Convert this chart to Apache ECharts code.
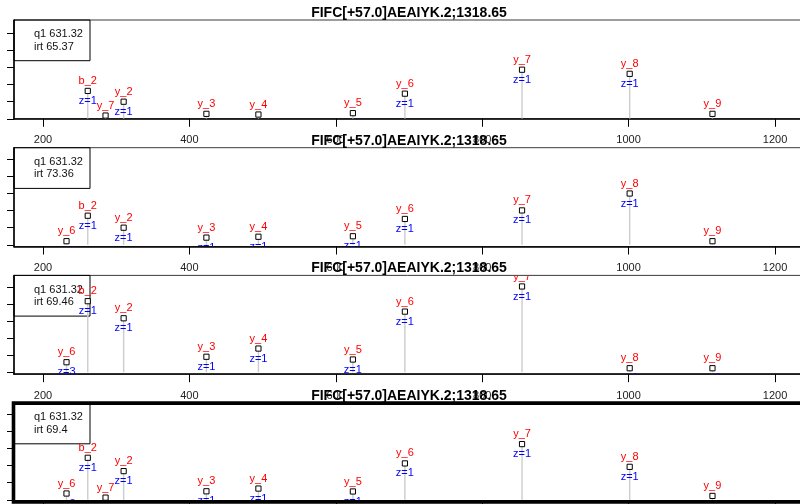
<!DOCTYPE html>
<html>
<head>
<meta charset="utf-8">
<script src="https://cdn.jsdelivr.net/npm/echarts@6/dist/echarts.min.js"></script>
<style>
  html, body { margin: 0; padding: 0; background: #fff; }
  #chart { width: 800px; height: 504px; }
</style>
</head>
<body>
<div id="chart"></div>
<script>
// Peptide / precursor annotation
const peptideLabel = 'FIFC[+57.0]AEAIYK.2;1318.65';
const precursorQ1 = 631.32;
const panelIrt = [65.37, 73.36, 69.46, 69.4];

// Fragment ions (shared by all runs)
const ionNames   = ['y_6', 'b_2', 'y_7', 'y_2', 'y_3', 'y_4', 'y_5', 'y_6', 'y_7', 'y_8', 'y_9'];
const ionCharges = [3, 1, 3, 1, 1, 1, 1, 1, 1, 1, 1];
const ionMz      = [232.13, 261.16, 285.47, 310.18, 423.26, 494.30, 623.34, 694.38, 854.41, 1001.48, 1114.56];

// Relative intensities per run (null = ion not observed)
const intensityRun1 = [null, 1.63, 0.19, 1.00, 0.29, 0.25, 0.33, 1.47, 2.87, 2.63, 0.29];
const intensityRun2 = [0.21, 1.70, null, 1.00, 0.42, 0.47, 0.50, 1.51, 2.01, 3.00, 0.21];
const intensityRun3 = [0.59, 4.16, null, 3.16, 0.91, 1.39, 0.75, 3.55, 5.02, 0.24, 0.24];
const intensityRun4 = [0.37, 2.46, 0.13, 1.68, 0.50, 0.66, 0.49, 2.13, 3.26, 1.93, 0.23];
const runIntensities = [intensityRun1, intensityRun2, intensityRun3, intensityRun4];

// Axis ticks
const mzTicks = [200, 400, 600, 800, 1000, 1200];
const intensityTicks = [0, 1, 2, 3, 4, 5];

const FONT = '"Liberation Sans", Arial, Helvetica, sans-serif';

// Panel layout
const PANEL_TOP0 = 20, PANEL_STEP = 127.7, PANEL_H = 98.8, PX_PER_UNIT = 17.1;
const GRID_LEFT = 14, GRID_RIGHT = -4;
const MZ_MIN = 160.4, MZ_MAX = 1239.6;
const zeroLift = [0, 0.1, 0.11, 0.12];

const chart = echarts.init(document.getElementById('chart'), null, { renderer: 'canvas' });

const grids = [], xAxes = [], yAxes = [], series = [], graphics = [];

function renderIon(params, api) {
  const mz = api.value(0);
  const inten = api.value(1);
  const idx = api.value(2);
  const p = api.coord([mz, inten]);
  const b = api.coord([mz, 0]);
  const txt = (text, y, color) => ({
    type: 'text', x: p[0], y: y, z2: 5,
    style: {
      text: text, fill: color, font: '11px ' + FONT,
      align: 'center', verticalAlign: 'middle',
      textAlign: 'center', textVerticalAlign: 'middle'
    }
  });
  return {
    type: 'group',
    children: [
      { type: 'line', z2: 1, shape: { x1: p[0], y1: b[1], x2: p[0], y2: p[1] },
        style: { stroke: '#cccccc', lineWidth: 1.4 } },
      { type: 'rect', z2: 3, shape: { x: p[0] - 2.6, y: p[1] - 2.6, width: 5.2, height: 5.2 },
        style: { fill: '#ffffff', stroke: '#000000', lineWidth: 1 } },
      txt(ionNames[idx], p[1] - 10, '#ff0000'),
      txt('z=' + ionCharges[idx], p[1] + 10, '#0000ff')
    ]
  };
}

runIntensities.forEach((vals, k) => {
  const top = PANEL_TOP0 + PANEL_STEP * k;
  const yMin = -zeroLift[k];
  const yMax = yMin + PANEL_H / PX_PER_UNIT;

  grids.push({
    left: GRID_LEFT, right: GRID_RIGHT, top: top, height: PANEL_H,
    containLabel: false, outerBoundsMode: 'none',
    show: true, borderColor: '#3a3a3a', borderWidth: 1, backgroundColor: 'transparent'
  });

  xAxes.push({
    type: 'value', gridIndex: k, min: MZ_MIN, max: MZ_MAX,
    axisLine: { show: true, onZero: false, lineStyle: { color: '#000', width: 1.6 } },
    axisTick: { show: true, length: 8, lineStyle: { color: '#000', width: 1 }, customValues: mzTicks },
    axisLabel: { show: true, customValues: mzTicks, margin: 16, fontSize: 11, color: '#222',
      fontFamily: FONT, formatter: (v) => String(v) },
    splitLine: { show: false }
  });

  yAxes.push({
    type: 'value', gridIndex: k, min: yMin, max: yMax,
    axisLine: { show: true, lineStyle: { color: '#000', width: 1.5 } },
    axisTick: { show: true, length: 7, lineStyle: { color: '#000', width: 1 }, customValues: intensityTicks },
    axisLabel: { show: false },
    splitLine: { show: false }
  });

  const data = [];
  vals.forEach((v, i) => { if (v !== null) data.push([ionMz[i], v, i]); });

  series.push({
    type: 'custom', xAxisIndex: k, yAxisIndex: k, clip: true,
    renderItem: renderIon, data: data, encode: { x: 0, y: 1 },
    animation: false, silent: true, z: 3
  });

  // Panel title
  graphics.push({
    type: 'text', x: 409, y: top - 7, z: 10,
    style: {
      text: peptideLabel, fill: '#000', font: 'bold 14px ' + FONT,
      align: 'center', verticalAlign: 'middle', textAlign: 'center', textVerticalAlign: 'middle'
    }
  });

  // Run legend box
  graphics.push({
    type: 'rect', z: 1,
    shape: { x: 14, y: top, width: 76, height: 40.7 },
    style: { fill: 'transparent', stroke: '#000', lineWidth: 1 }
  });
  graphics.push({
    type: 'text', x: 34, y: top + 14.3, z: 1,
    style: { text: 'q1 ' + precursorQ1, fill: '#111', font: '11px ' + FONT,
      align: 'left', verticalAlign: 'middle', textAlign: 'left', textVerticalAlign: 'middle' }
  });
  graphics.push({
    type: 'text', x: 34, y: top + 26.7, z: 1,
    style: { text: 'irt ' + panelIrt[k], fill: '#111', font: '11px ' + FONT,
      align: 'left', verticalAlign: 'middle', textAlign: 'left', textVerticalAlign: 'middle' }
  });

  // Highlight frame on the last run
  if (k === runIntensities.length - 1) {
    graphics.push({
      type: 'rect', z: 20,
      shape: { x: 13.5, y: top, width: 800, height: PANEL_H },
      style: { fill: 'transparent', stroke: '#000', lineWidth: 3.6 }
    });
  }
});

chart.setOption({
  animation: false,
  backgroundColor: '#ffffff',
  grid: grids,
  xAxis: xAxes,
  yAxis: yAxes,
  series: series,
  graphic: { elements: graphics }
});
</script>
</body>
</html>
